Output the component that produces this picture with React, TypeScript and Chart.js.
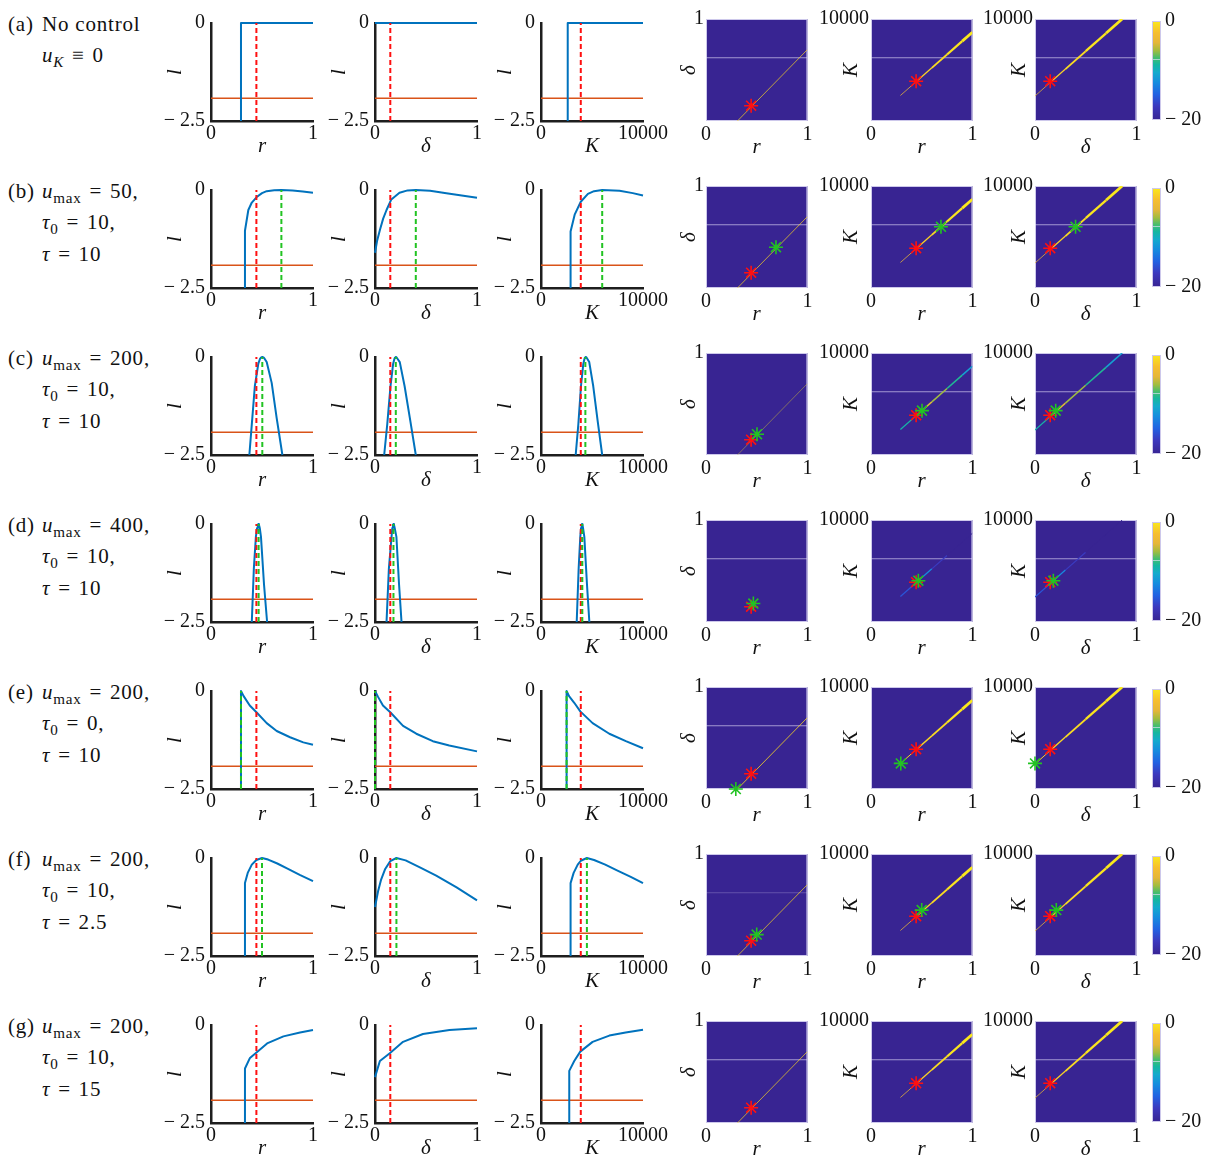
import React, { useEffect, useRef } from "react";
import { Chart, registerables } from "chart.js";

Chart.register(...registerables);

/* ------------------------------------------------------------------ */
/* DATA                                                                */
/* ------------------------------------------------------------------ */
const ROW_TAGS = ["(a)", "(b)", "(c)", "(d)", "(e)", "(f)", "(g)"];
const U_MAX = [null, 50, 200, 400, 200, 200, 200];
const TAU0 = [null, 10, 10, 10, 0, 10, 10];
const TAU = [null, 10, 10, 10, 10, 2.5, 15];

const L_MIN = -2.5;
const L_MAX = 0;
const L_TICKS = [-2.5, 0];
const L_TICK_LABELS = ["\u2212 2.5", "0"];
const L_THRESHOLD = -1.92;

const R_MAX = 1;
const D_MAX = 1;
const K_MAX = 10000;
const R_TICK_LABELS = ["0", "1"];
const D_TICK_LABELS = ["0", "1"];
const K_TICK_LABELS = ["0", "10000"];

// true parameters (red)
const R_TRUE = 0.445;
const D_TRUE = 0.15;
const K_TRUE = 3900;

// estimated parameters (green), one per row, null when absent
const R_EST = [null, 0.69, 0.503, 0.467, 0.294, 0.5, null];
const D_EST = [null, 0.4, 0.204, 0.181, 0.0, 0.21, null];
const K_EST = [null, 6000, 4350, 4050, 2510, 4500, null];

// likelihood profiles l(r), l(delta), l(K)
const CURVE_R_X = [
  [0.294, 0.294, 1.0],
  [0.333, 0.333, 0.366, 0.4, 0.448, 0.5, 0.546, 0.62, 0.69, 0.8, 0.9, 1.0],
  [0.376, 0.4, 0.43, 0.464, 0.48, 0.492, 0.503, 0.515, 0.527, 0.546, 0.595, 0.644, 0.7],
  [0.4, 0.42, 0.44, 0.452, 0.459, 0.464, 0.47, 0.478, 0.49, 0.52, 0.55],
  [0.294, 0.294, 0.32, 0.38, 0.448, 0.546, 0.644, 0.775, 0.905, 1.0],
  [0.333, 0.333, 0.36, 0.4, 0.445, 0.5, 0.56, 0.65, 0.75, 0.87, 1.0],
  [0.333, 0.333, 0.382, 0.446, 0.55, 0.71, 0.873, 1.0],
];
const CURVE_R_L = [
  [-2.5, 0, 0],
  [-2.5, -1.04, -0.51, -0.32, -0.18, -0.08, -0.03, -0.005, 0, -0.015, -0.04, -0.07],
  [-2.5, -1.72, -0.74, -0.17, -0.05, -0.01, 0, -0.01, -0.05, -0.13, -0.66, -1.56, -2.5],
  [-2.5, -1.14, -0.33, -0.1, -0.02, 0, -0.02, -0.1, -0.33, -1.55, -2.5],
  [-2.5, 0, -0.13, -0.37, -0.55, -0.82, -1.02, -1.18, -1.31, -1.37],
  [-2.5, -0.64, -0.38, -0.17, -0.05, 0, -0.04, -0.14, -0.27, -0.43, -0.59],
  [-2.5, -1.11, -0.84, -0.7, -0.47, -0.29, -0.19, -0.13],
];
const CURVE_D_X = [
  [0, 1],
  [0, 0.02, 0.05, 0.08, 0.113, 0.16, 0.24, 0.32, 0.4, 0.54, 0.7, 0.85, 1.0],
  [0.09, 0.12, 0.152, 0.178, 0.19, 0.197, 0.204, 0.211, 0.222, 0.243, 0.29, 0.347, 0.4],
  [0.113, 0.136, 0.162, 0.17, 0.176, 0.181, 0.186, 0.193, 0.21, 0.236, 0.26],
  [0, 0.03, 0.078, 0.152, 0.275, 0.405, 0.567, 0.728, 1.0],
  [0, 0.03, 0.06, 0.1, 0.15, 0.21, 0.3, 0.45, 0.6, 0.8, 1.0],
  [0, 0.048, 0.145, 0.275, 0.47, 0.73, 1.0],
];
const CURVE_D_L = [
  [0, 0],
  [-1.6, -1.3, -1.0, -0.73, -0.51, -0.24, -0.07, -0.01, 0, -0.02, -0.08, -0.14, -0.2],
  [-2.5, -1.72, -0.74, -0.17, -0.05, -0.01, 0, -0.01, -0.05, -0.13, -0.74, -1.64, -2.5],
  [-2.5, -1.14, -0.33, -0.1, -0.02, 0, -0.02, -0.1, -0.33, -1.55, -2.5],
  [0, -0.15, -0.37, -0.55, -0.89, -1.09, -1.28, -1.39, -1.54],
  [-1.25, -0.85, -0.55, -0.28, -0.08, 0, -0.06, -0.25, -0.45, -0.75, -1.08],
  [-1.33, -0.92, -0.72, -0.43, -0.23, -0.13, -0.08],
];
const CURVE_K_X = [
  [2620, 2620, 10000],
  [2900, 2900, 3300, 3900, 4600, 5200, 6000, 7700, 9000, 10000],
  [3400, 3660, 3920, 4150, 4260, 4320, 4380, 4450, 4550, 4730, 5120, 5560, 6000],
  [3500, 3690, 3850, 3930, 3980, 4020, 4060, 4120, 4250, 4510, 4740],
  [2510, 2510, 2750, 3260, 3850, 5060, 6700, 8320, 10000],
  [2900, 2900, 3200, 3600, 3900, 4500, 5200, 6300, 7500, 8800, 10000],
  [2770, 2770, 3260, 3850, 5060, 6700, 8300, 10000],
];
const CURVE_K_L = [
  [-2.5, 0, 0],
  [-2.5, -1.06, -0.63, -0.3, -0.1, -0.03, 0, -0.02, -0.08, -0.14],
  [-2.5, -1.72, -0.74, -0.17, -0.05, -0.01, 0, -0.01, -0.05, -0.13, -0.74, -1.64, -2.5],
  [-2.5, -1.14, -0.33, -0.1, -0.02, 0, -0.02, -0.1, -0.33, -1.55, -2.5],
  [-2.5, 0, -0.13, -0.3, -0.52, -0.82, -1.09, -1.28, -1.46],
  [-2.5, -0.64, -0.38, -0.17, -0.07, 0, -0.05, -0.17, -0.32, -0.48, -0.64],
  [-2.5, -1.17, -0.92, -0.68, -0.43, -0.27, -0.19, -0.12],
];

// heat-map colour range
const V_MIN = -20;
const V_MAX = 0;
const V_TICKS = [-20, 0];
const V_TICK_LABELS = ["\u2212 20", "0"];

// likelihood ridges in the 2-D maps
const RIDGE_RD_R = [0.31, 1.0];
const RIDGE_RD_D = [0, 0.7];
const RIDGE_RK_R = [0.29, 0.45, 0.6, 0.75, 0.9, 1.0];
const RIDGE_RK_K = [2500, 3900, 5210, 6520, 7830, 8700];
const RIDGE_DK_D = [0, 0.15, 0.3, 0.5, 0.7, 0.86];
const RIDGE_DK_K = [2450, 3770, 5090, 6840, 8600, 10000];

// ridge values (l) along each ridge, per row
const RIDGE_RD_V = [
  [-1, -1], [-1, -1], [-5, -5], [-20, -20], [-1, -1], [-1, -1], [-1, -1],
];
const RIDGE_RK_V = [
  [-3, -1.5, -1, -0.5, 0, 0],
  [-3, -1.5, -1, -0.5, 0, 0],
  [-14, -4, -5, -7, -10, -12],
  [-20, -11, -14, -20, -20, -20],
  [-2, -1, -1, -0.5, 0, 0],
  [-3, -1.5, -1, -0.5, 0, 0],
  [-3, -1.5, -1, -0.5, 0, 0],
];
const RIDGE_DK_V = [
  [-3, -1.5, -1, -0.5, 0, 0],
  [-3, -1.5, -1, -0.5, 0, 0],
  [-14, -4, -5, -7, -10, -12],
  [-20, -11, -14, -20, -20, -20],
  [-2, -1, -1, -0.5, 0, 0],
  [-3, -1.5, -1, -0.5, 0, 0],
  [-3, -1.5, -1, -0.5, 0, 0],
];
// faint horizontal artefact line (fraction of y range) and colorbar level
const ARTEFACT_LEVEL = 0.62;
const CBAR_ARTEFACT_V = -7.6;

/* ------------------------------------------------------------------ */
/* STYLE / LAYOUT                                                      */
/* ------------------------------------------------------------------ */
const FONT = "'Liberation Serif', 'Times New Roman', serif";
const TEXT = "#111111";
const BLUE = "#0072BD";
const ORANGE = "#D95319";
const RED = "#ff1010";
const GREEN = "#22c322";
const AXIS = "#1e1e1e";
const FRAME = "rgba(205,200,235,1)";

const ROW_TOP0 = 19;
const ROW_STEP = 167;
const PLOT = 102;
const LINE_LEFTS = [211, 375, 541];
const HEAT_LEFTS = [706, 871, 1035];
const HEAT_TITLE_PAD = [31, 28, 32];
const CBAR_LEFT = 1152;

const RIDGE_RD_W = [0.7, 0.7, 0.5, 0, 0.8, 0.7, 0.7];
const RIDGE_W = [
  [0.7, 1.3, 1.8, 2.3, 2.8],
  [0.7, 1.3, 1.8, 2.3, 2.8],
  [1.2, 1.5, 1.6, 1.6, 1.6],
  [1.2, 1.3, 1.2, 1, 1],
  [1.0, 1.4, 1.8, 2.3, 2.8],
  [0.7, 1.3, 1.8, 2.3, 2.8],
  [0.7, 1.3, 1.8, 2.3, 2.8],
];
const ARTEFACT_ALPHA = [
  [1, 1, 1], [1, 1, 1], [0, 1, 1], [1, 1, 1], [1, 0, 0], [0.4, 0, 0], [1, 1, 1],
];

const CMAP_STOPS: number[][] = [
  [0.0, 56, 36, 146],
  [0.14, 60, 56, 190],
  [0.26, 34, 98, 226],
  [0.38, 22, 140, 222],
  [0.48, 20, 170, 205],
  [0.56, 22, 182, 160],
  [0.63, 70, 189, 110],
  [0.7, 160, 188, 64],
  [0.78, 228, 182, 58],
  [0.88, 246, 190, 48],
  [1.0, 250, 232, 28],
];

function cmap(v: number, alpha = 1): string {
  let t = (v - V_MIN) / (V_MAX - V_MIN);
  t = Math.max(0, Math.min(1, t));
  for (let i = 1; i < CMAP_STOPS.length; i++) {
    const a = CMAP_STOPS[i - 1];
    const b = CMAP_STOPS[i];
    if (t <= b[0]) {
      const f = (t - a[0]) / (b[0] - a[0] || 1);
      const c = [1, 2, 3].map((k) => Math.round(a[k] + (b[k] - a[k]) * f));
      return `rgba(${c[0]},${c[1]},${c[2]},${alpha})`;
    }
  }
  const l = CMAP_STOPS[CMAP_STOPS.length - 1];
  return `rgba(${l[1]},${l[2]},${l[3]},${alpha})`;
}

Chart.defaults.font.family = FONT;
Chart.defaults.color = TEXT;

const pts = (xs: number[], ys: number[]) => xs.map((x, i) => ({ x, y: ys[i] }));

/* ------------------------------------------------------------------ */
/* CHART CONFIGS                                                       */
/* ------------------------------------------------------------------ */
function lineConfig(row: number, col: number): any {
  const xs = [CURVE_R_X, CURVE_D_X, CURVE_K_X][col][row];
  const ls = [CURVE_R_L, CURVE_D_L, CURVE_K_L][col][row];
  const xMax = [R_MAX, D_MAX, K_MAX][col];
  const trueV = [R_TRUE, D_TRUE, K_TRUE][col];
  const estV = [R_EST, D_EST, K_EST][col][row];
  const xTitle = ["r", "\u03b4", "K"][col];
  const xLabels = [R_TICK_LABELS, D_TICK_LABELS, K_TICK_LABELS][col];

  const datasets: any[] = [
    {
      data: [
        { x: 0, y: L_THRESHOLD },
        { x: xMax, y: L_THRESHOLD },
      ],
      borderColor: ORANGE,
      borderWidth: 1.5,
      order: 3,
    },
    { data: pts(xs, ls), borderColor: BLUE, borderWidth: 2, order: 2, clip: false },
    {
      data: [
        { x: trueV, y: L_MIN },
        { x: trueV, y: L_MAX },
      ],
      borderColor: RED,
      borderWidth: 2,
      borderDash: [5, 3],
      order: 1,
    },
  ];
  if (estV !== null && estV !== undefined) {
    datasets.push({
      data: [
        { x: estV, y: L_MIN },
        { x: estV, y: L_MAX },
      ],
      borderColor: GREEN,
      borderWidth: 2,
      borderDash: [5, 3],
      order: 0,
      clip: false,
    });
  }
  datasets.forEach((d) => {
    d.showLine = true;
    d.pointRadius = 0;
    d.fill = false;
    d.tension = 0;
    d.borderJoinStyle = "round";
  });

  return {
    type: "scatter",
    data: { datasets },
    options: {
      animation: false,
      responsive: false,
      maintainAspectRatio: false,
      events: [],
      layout: { padding: { left: 0, top: 14, right: 30, bottom: 0 } },
      plugins: { legend: { display: false }, tooltip: { enabled: false } },
      scales: {
        x: {
          type: "linear",
          min: 0,
          max: xMax,
          afterBuildTicks: (s: any) => {
            s.ticks = [{ value: 0 }, { value: xMax }];
          },
          afterFit: (s: any) => {
            s.height = 38;
          },
          grid: { display: false, drawTicks: false },
          border: { display: true, color: AXIS, width: 2.5 },
          ticks: {
            padding: 1,
            autoSkip: false,
            maxRotation: 0,
            minRotation: 0,
            font: { family: FONT, size: 20 },
            color: TEXT,
            callback: (_v: any, i: number) => xLabels[i],
          },
          title: {
            display: true,
            text: xTitle,
            color: TEXT,
            font: { family: FONT, size: 21, style: "italic" },
            padding: { top: 0, bottom: 0 },
          },
        },
        y: {
          type: "linear",
          min: L_MIN,
          max: L_MAX,
          afterBuildTicks: (s: any) => {
            s.ticks = L_TICKS.map((v) => ({ value: v }));
          },
          afterFit: (s: any) => {
            s.width = 58;
          },
          grid: { display: false, drawTicks: false },
          border: { display: true, color: AXIS, width: 2.5 },
          ticks: {
            padding: 6,
            autoSkip: false,
            font: { family: FONT, size: 20 },
            color: TEXT,
            callback: (_v: any, i: number) => L_TICK_LABELS[i],
          },
          title: {
            display: true,
            text: "l",
            color: TEXT,
            font: { family: FONT, size: 21, style: "italic" },
            padding: { top: 10, bottom: 0 },
          },
        },
      },
    },
  };
}

const heatPlugin = {
  id: "heatBg",
  beforeDatasetsDraw(chart: any) {
    const { ctx, chartArea: a } = chart;
    ctx.save();
    ctx.fillStyle = cmap(V_MIN);
    ctx.fillRect(a.left, a.top, a.right - a.left, a.bottom - a.top);
    ctx.strokeStyle = FRAME;
    ctx.lineWidth = 1;
    ctx.strokeRect(a.left + 0.5, a.top + 0.5, a.right - a.left - 1, a.bottom - a.top - 1);
    ctx.restore();
  },
};

function heatConfig(row: number, col: number): any {
  const xMax = [R_MAX, R_MAX, D_MAX][col];
  const yMax = [D_MAX, K_MAX, K_MAX][col];
  const xTitle = ["r", "r", "\u03b4"][col];
  const yTitle = ["\u03b4", "K", "K"][col];
  const xLabels = [R_TICK_LABELS, R_TICK_LABELS, D_TICK_LABELS][col];
  const yLabel = [D_TICK_LABELS, K_TICK_LABELS, K_TICK_LABELS][col][1];
  const trueX = [R_TRUE, R_TRUE, D_TRUE][col];
  const trueY = [D_TRUE, K_TRUE, K_TRUE][col];
  const estX = [R_EST, R_EST, D_EST][col][row];
  const estY = [D_EST, K_EST, K_EST][col][row];

  let rx: number[], ry: number[], rv: number[], rw: number[];
  if (col === 0) {
    rx = RIDGE_RD_R;
    ry = RIDGE_RD_D;
    rv = RIDGE_RD_V[row];
    rw = [RIDGE_RD_W[row]];
  } else if (col === 1) {
    rx = RIDGE_RK_R;
    ry = RIDGE_RK_K;
    rv = RIDGE_RK_V[row];
    rw = RIDGE_W[row];
  } else {
    rx = RIDGE_DK_D;
    ry = RIDGE_DK_K;
    rv = RIDGE_DK_V[row];
    rw = RIDGE_W[row];
  }

  const datasets: any[] = [];
  const art = ARTEFACT_ALPHA[row][col];
  if (art > 0) {
    datasets.push({
      data: [
        { x: 0, y: ARTEFACT_LEVEL * yMax },
        { x: xMax, y: ARTEFACT_LEVEL * yMax },
      ],
      borderColor: `rgba(235,230,255,${0.6 * art})`,
      borderWidth: 1,
      showLine: true,
      pointRadius: 0,
      order: 4,
    });
  }
  if (rw[0] > 0) {
    datasets.push({
      data: pts(rx, ry),
      borderColor: cmap(rv[0]),
      borderWidth: rw[0],
      showLine: true,
      pointRadius: 0,
      order: 3,
      segment: {
        borderColor: (c: any) => cmap((rv[c.p0DataIndex] + rv[c.p1DataIndex]) / 2),
        borderWidth: (c: any) => rw[Math.min(c.p0DataIndex, rw.length - 1)],
      },
    });
  }
  datasets.push({
    data: [{ x: trueX, y: trueY }],
    pointStyle: "star",
    pointRadius: 7,
    pointBorderWidth: 1.6,
    pointBorderColor: RED,
    pointBackgroundColor: RED,
    showLine: false,
    clip: false,
    order: 1,
  });
  if (estX !== null && estX !== undefined) {
    datasets.push({
      data: [{ x: estX, y: estY }],
      pointStyle: "star",
      pointRadius: 7,
      pointBorderWidth: 1.6,
      pointBorderColor: GREEN,
      pointBackgroundColor: GREEN,
      showLine: false,
      clip: false,
      order: 0,
    });
  }

  return {
    type: "scatter",
    data: { datasets },
    plugins: [heatPlugin],
    options: {
      animation: false,
      responsive: false,
      maintainAspectRatio: false,
      events: [],
      layout: { padding: { left: 0, top: 14, right: 8, bottom: 0 } },
      plugins: { legend: { display: false }, tooltip: { enabled: false } },
      scales: {
        x: {
          type: "linear",
          min: 0,
          max: xMax,
          afterBuildTicks: (s: any) => {
            s.ticks = [{ value: 0 }, { value: xMax }];
          },
          afterFit: (s: any) => {
            s.height = 39;
          },
          grid: { display: false, drawTicks: false },
          border: { display: false },
          ticks: {
            padding: 2,
            autoSkip: false,
            maxRotation: 0,
            minRotation: 0,
            font: { family: FONT, size: 20 },
            color: TEXT,
            callback: (_v: any, i: number) => xLabels[i],
          },
          title: {
            display: true,
            text: xTitle,
            color: TEXT,
            font: { family: FONT, size: 21, style: "italic" },
            padding: { top: 0, bottom: 0 },
          },
        },
        y: {
          type: "linear",
          min: 0,
          max: yMax,
          afterBuildTicks: (s: any) => {
            s.ticks = [{ value: yMax }];
          },
          afterFit: (s: any) => {
            s.width = 60;
          },
          grid: { display: false, drawTicks: false },
          border: { display: false },
          ticks: {
            padding: 2,
            autoSkip: false,
            font: { family: FONT, size: 20 },
            color: TEXT,
            callback: () => yLabel,
          },
          title: {
            display: true,
            text: yTitle,
            color: TEXT,
            font: { family: FONT, size: 21, style: "italic" },
            padding: { top: HEAT_TITLE_PAD[col], bottom: 0 },
          },
        },
      },
    },
  };
}

const cbarPlugin = {
  id: "cbarFrame",
  afterDatasetsDraw(chart: any) {
    const { ctx, chartArea: a } = chart;
    const y = chart.scales.y.getPixelForValue(CBAR_ARTEFACT_V);
    ctx.save();
    ctx.strokeStyle = "rgba(235,230,255,0.6)";
    ctx.lineWidth = 1;
    ctx.beginPath();
    ctx.moveTo(a.left, Math.round(y) + 0.5);
    ctx.lineTo(a.right, Math.round(y) + 0.5);
    ctx.stroke();
    ctx.strokeStyle = FRAME;
    ctx.strokeRect(a.left + 0.5, a.top + 0.5, a.right - a.left - 1, a.bottom - a.top - 1);
    ctx.restore();
  },
};

function colorbarConfig(): any {
  return {
    type: "bar",
    data: {
      labels: [""],
      datasets: [
        {
          data: [[V_MIN, V_MAX]],
          borderWidth: 0,
          barPercentage: 1,
          categoryPercentage: 1,
          backgroundColor: (c: any) => {
            const area = c.chart.chartArea;
            if (!area) return cmap(V_MIN);
            const g = c.chart.ctx.createLinearGradient(0, area.bottom, 0, area.top);
            CMAP_STOPS.forEach((s) => g.addColorStop(s[0], `rgb(${s[1]},${s[2]},${s[3]})`));
            return g;
          },
        },
      ],
    },
    plugins: [cbarPlugin],
    options: {
      animation: false,
      responsive: false,
      maintainAspectRatio: false,
      events: [],
      layout: { padding: { left: 2, top: 14, right: 0, bottom: 15 } },
      plugins: { legend: { display: false }, tooltip: { enabled: false } },
      scales: {
        x: { display: false },
        y: {
          position: "right",
          min: V_MIN,
          max: V_MAX,
          afterBuildTicks: (s: any) => {
            s.ticks = V_TICKS.map((v) => ({ value: v }));
          },
          afterFit: (s: any) => {
            s.width = 49;
          },
          grid: { display: false, drawTicks: false },
          border: { display: false },
          ticks: {
            padding: 4,
            autoSkip: false,
            font: { family: FONT, size: 20 },
            color: TEXT,
            callback: (_v: any, i: number) => V_TICK_LABELS[i],
          },
        },
      },
    },
  };
}

/* ------------------------------------------------------------------ */
/* COMPONENTS                                                          */
/* ------------------------------------------------------------------ */
function ChartCanvas(props: { left: number; top: number; width: number; height: number; make: () => any }) {
  const ref = useRef<HTMLCanvasElement>(null);
  useEffect(() => {
    const chart = new Chart(ref.current as HTMLCanvasElement, props.make());
    return () => chart.destroy();
  }, []);
  return (
    <canvas
      ref={ref}
      width={props.width}
      height={props.height}
      style={{
        position: "absolute",
        left: props.left,
        top: props.top,
        width: props.width,
        height: props.height,
      }}
    />
  );
}

const labelStyle: React.CSSProperties = {
  position: "absolute",
  fontFamily: FONT,
  fontSize: 21,
  lineHeight: "31.5px",
  letterSpacing: "0.8px",
  color: TEXT,
  whiteSpace: "nowrap",
};
const subStyle: React.CSSProperties = { fontSize: "0.72em", verticalAlign: "-0.35em", lineHeight: 0 };
const EQ = "\u2004=\u2004";

function RowLabel({ row }: { row: number }) {
  const top = ROW_TOP0 + ROW_STEP * row - 10.5;
  let lines: React.ReactNode[];
  if (row === 0) {
    lines = [
      <span>No control</span>,
      <span>
        <i>u</i>
        <sub style={{ ...subStyle, fontStyle: "italic" }}>K</sub>
        {"\u2004\u2261\u2004"}0
      </span>,
    ];
  } else {
    lines = [
      <span>
        <i>u</i>
        <sub style={subStyle}>max</sub>
        {EQ}
        {U_MAX[row]},
      </span>,
      <span>
        <i>{"\u03c4"}</i>
        <sub style={subStyle}>0</sub>
        {EQ}
        {TAU0[row]},
      </span>,
      <span>
        <i>{"\u03c4"}</i>
        {EQ}
        {TAU[row]}
      </span>,
    ];
  }
  return (
    <>
      <div style={{ ...labelStyle, left: 8, top }}>{ROW_TAGS[row]}</div>
      {lines.map((ln, i) => (
        <div key={i} style={{ ...labelStyle, left: 42, top: top + i * 31.5 }}>
          {ln}
        </div>
      ))}
    </>
  );
}

export default function App() {
  const rows = [0, 1, 2, 3, 4, 5, 6];
  return (
    <div
      style={{
        position: "absolute",
        left: 0,
        top: 0,
        width: 1211,
        height: 1155,
        overflow: "hidden",
        background: "#ffffff",
      }}
    >
      {rows.map((row) => {
        const rowTop = ROW_TOP0 + ROW_STEP * row;
        return (
          <React.Fragment key={row}>
            <RowLabel row={row} />
            {LINE_LEFTS.map((L, col) => (
              <ChartCanvas
                key={"l" + col}
                left={L - 58}
                top={rowTop - 14}
                width={58 + PLOT + 30}
                height={14 + PLOT + 38}
                make={() => lineConfig(row, col)}
              />
            ))}
            {HEAT_LEFTS.map((L, col) => (
              <ChartCanvas
                key={"h" + col}
                left={L - 60}
                top={rowTop - 14}
                width={60 + PLOT + 8}
                height={14 + PLOT + 39}
                make={() => heatConfig(row, col)}
              />
            ))}
            <ChartCanvas
              left={CBAR_LEFT - 2}
              top={rowTop - 14}
              width={60}
              height={14 + PLOT + 15}
              make={colorbarConfig}
            />
          </React.Fragment>
        );
      })}
    </div>
  );
}
